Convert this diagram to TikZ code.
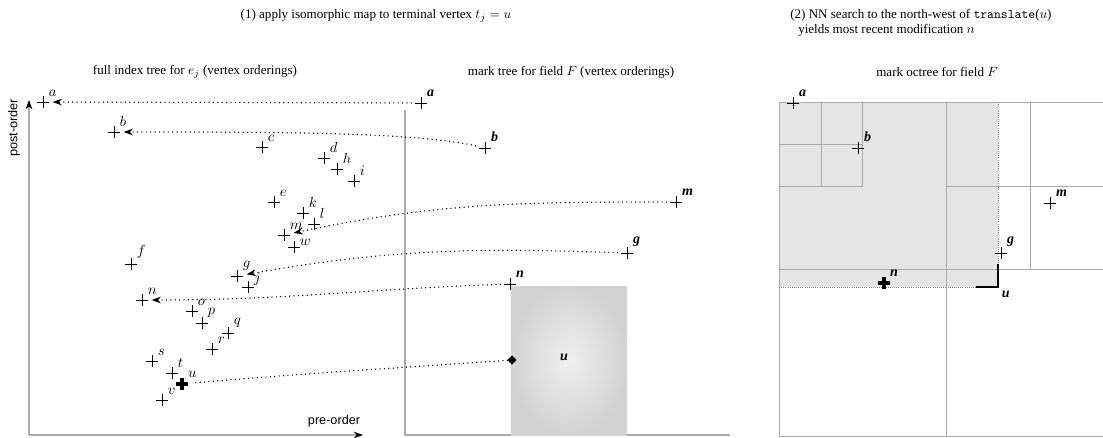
\documentclass[tikz,border=0pt]{standalone}
\usepackage{amsmath}
\usepackage{fontspec}
\setmainfont{Liberation Serif}
\setsansfont{Liberation Sans}
\usepackage{tikz}
\usetikzlibrary{arrows.meta, shapes.geometric, positioning, calc}
\definecolor{axgray}{HTML}{AAAAAA}
\definecolor{cellfill}{HTML}{E5E5E5}
\definecolor{hatch}{HTML}{888888}

\begin{document}
\begin{tikzpicture}[
  x=0.75pt, y=-0.75pt,
  font=\fontsize{9.8}{11.5}\selectfont,
  pt/.style={rectangle, inner sep=0pt, minimum size=6pt},
  cross/.style={line width=0.55pt},
  bigcross/.style={line width=2.8pt},
  lab/.style={font=\fontsize{11}{11}\selectfont, inner sep=1pt},
  blab/.style={font=\fontsize{10.5}{11}\selectfont\bfseries\itshape, inner sep=1.2pt},
  axlab/.style={font=\sffamily\fontsize{9.5}{10}\selectfont, inner sep=1pt},
  axis/.style={axgray, line width=0.8pt},
  cell/.style={axgray, line width=0.7pt},
  link/.style={line width=1.1pt, dash pattern=on 0pt off 3.3pt, line cap=round,
               shorten >=4pt, shorten <=4pt},
  tip/.style={-{Stealth[length=7pt, width=5pt, black]}},
]
\useasboundingbox (0,0) rectangle (1103,437);

% ---------- titles ----------
\node (t1) at (376,16) {(1) apply isomorphic map to terminal vertex $t_j = u$};
\node[align=left, anchor=north west, inner sep=0pt] (t2) at (790,9)
  {(2) NN search to the north-west of \texttt{translate}($u$)\\
   \hspace{6pt}yields most recent modification $n$};
\node (s1) at (195,72) {full index tree for $e_j$ (vertex orderings)};
\node (s2) at (571,72) {mark tree for field $F$ (vertex orderings)};
\node (s3) at (937,72) {mark octree for field $F$};

% ---------- full index tree (left) ----------
\coordinate (orig) at (29,435);
\coordinate (yend) at (29,100);
\coordinate (xend) at (363,435);
\draw[axis, tip] (orig) -- (yend);
\draw[axis, tip] (orig) -- (xend);
\node[axlab, rotate=90] (postlab) at (14,128) {post-order};
\node[axlab, above left=5pt and 1pt of xend] (prelab) {pre-order};

\foreach \n/\x/\y/\p in {a/43/102/45, b/114/132/45, c/262/147/45, d/324/158/45,
    h/337/169/45, i/354/181/45, e/274/202/45, k/303/213/45, l/314/224/45,
    m/284/235/45, w/294/247/5, f/131/264/45, g/237/276/45, j/248/287/5,
    n/142/300/45, o/192/311/45, p/202/323/45, q/228/333/45, r/212/349/45,
    s/152/361/45, t/172/373/45, v/162/400/45} {
  \node[pt, label={[lab]\p:$\n$}] (l\n) at (\x,\y) {};
  \draw[cross] (l\n) +(-6,0) -- +(6,0) +(0,-6) -- +(0,6);
}
\node[pt, label={[blab]45:$u$}] (lu) at (182,384) {};
\draw[bigcross] (lu) +(-6,0) -- +(6,0) +(0,-6) -- +(0,6);

% ---------- mark tree (middle) ----------
\draw[axis] (405,110) -- (405,435) -- (730,435);
\shade[inner color=gray!12, outer color=gray!35] (511,286) rectangle (627,435);
\node[blab] (ulab) at (564,357) {u};
\node[diamond, fill=black, inner sep=0pt, minimum size=7pt] (tu) at (512,360) {};

\foreach \n/\x/\y in {a/421/103, b/485/148, m/676/202, g/627/253, n/510/284} {
  \node[pt, label={[blab]45:\n}] (m\n) at (\x,\y) {};
  \draw[cross] (m\n) +(-6,0) -- +(6,0) +(0,-6) -- +(0,6);
}

% ---------- mapping links ----------
\draw[link, tip] (ma) -- (la);
\draw[link, tip] (mb) .. controls +(-70,-16) and +(160,0) .. (lb);
\draw[link, tip] (mm) to[out=180, in=12] (lm);
\draw[link, tip] (mg) to[out=178, in=10] (lg);
\draw[link, tip] (mn) to[out=182, in=0] (ln);
\draw[link, shorten <=0pt] (tu) to[out=184, in=5] (lu);

% ---------- mark octree (right) ----------
\fill[cellfill] (779,102) rectangle (998,287);
\draw[cell] (1103,102) -- (779,102) -- (779,436) -- (1103,436);
\draw[cell] (946,102) -- (946,436);
\draw[cell] (779,269) -- (1103,269);
\draw[cell] (862,102) -- (862,186) -- (779,186);
\draw[cell] (821,102) -- (821,186) (779,144) -- (862,144);
\draw[cell] (1030,102) -- (1030,269) (946,186) -- (1103,186);
\draw[hatch, line width=0.6pt, densely dotted] (998,102) -- (998,287) -- (779,287);

\foreach \n/\x/\y in {a/793/103, b/858/148, m/1050/203, g/1001/253} {
  \node[pt, label={[blab]45:\n}] (o\n) at (\x,\y) {};
  \draw[cross] (o\n) +(-6,0) -- +(6,0) +(0,-6) -- +(0,6);
}
\node[pt, label={[blab]45:n}] (on) at (884,283) {};
\draw[bigcross] (on) +(-6,0) -- +(6,0) +(0,-6) -- +(0,6);

% translate(u) corner
\coordinate (corner) at (998,287);
\draw[line width=2.2pt, miter limit=10] (998,264) -- (corner) -- (976,287);
\node[blab, anchor=north west] (ocu) at (1000,289) {u};

\end{tikzpicture}
\end{document}
